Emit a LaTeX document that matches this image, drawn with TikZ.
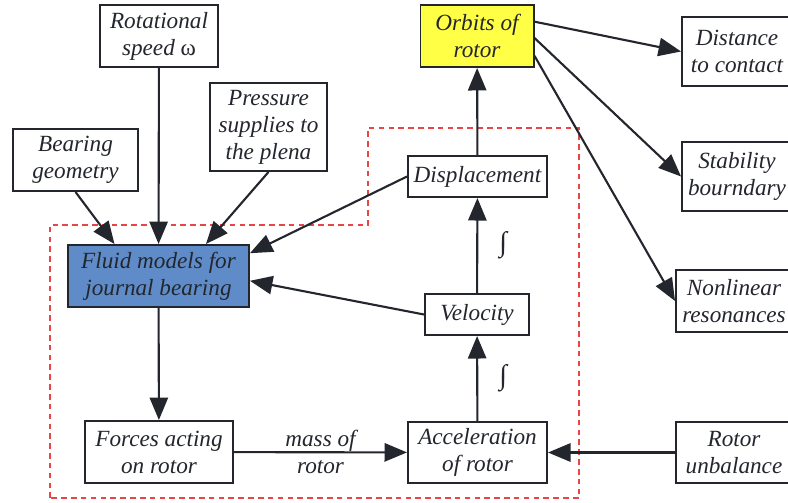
\documentclass[tikz,border=0pt]{standalone}
\usepackage{fontspec}
\setmainfont{Liberation Serif}[ItalicFont={Liberation Serif Italic}]
\usepackage{tikz}
\usetikzlibrary{arrows.meta}
\definecolor{fluidblue}{RGB}{95,140,200}
\definecolor{orbityellow}{RGB}{255,255,70}
\definecolor{loopred}{RGB}{232,70,70}
\definecolor{ink}{RGB}{35,38,45}

\begin{document}
\begin{tikzpicture}[scale=0.25]
\tikzstyle{every node}+=[inner sep=2pt, text=ink, align=center,
  font=\fontsize{16.5}{19.2}\selectfont\itshape]
\tikzstyle{box}=[draw=ink, line width=1.4pt, fill=white]
\tikzstyle{arr}=[draw=ink, line width=1.5pt, -{Triangle[length=16pt,width=13pt]}]
\tikzstyle{integ}=[right=13pt, font=\fontsize{20}{20}\selectfont\upshape]
\useasboundingbox (0,0) rectangle (78.8,-50.2);
% loop of the rotor dynamics
\draw [loopred, line width=1.2pt, dash pattern=on 4pt off 3pt]
  (5,-49.8) -- (5,-22.5) -- (36.8,-22.5) -- (36.8,-12.8)
  -- (57.9,-12.8) -- (57.9,-49.8) -- cycle;
\node [box, minimum width=83.9pt, minimum height=44.1pt] (rot) at (15.9,-3.6) {Rotational\\speed {\upshape ω}};
\node [box, minimum width=88.9pt, minimum height=44.1pt] (geom) at (7.55,-16) {Bearing\\geometry};
\node [box, minimum width=83.2pt, minimum height=62.6pt] (press) at (26.85,-12.7) {Pressure\\supplies to\\the plena};
\node [box, fill=fluidblue, minimum width=128.7pt, minimum height=44.1pt] (fluid) at (15.85,-27.6) {Fluid models for\\journal bearing};
\node [box, minimum width=105.3pt, minimum height=44.1pt] (forces) at (15.9,-45.2) {Forces acting\\on rotor};
\node [box, minimum width=98.9pt, minimum height=43.4pt] (acc) at (47.75,-45.25) {Acceleration\\of rotor};
\node [box, minimum width=74pt, minimum height=29.2pt] (vel) at (47.7,-31.45) {Velocity};
\node [box, minimum width=98.9pt, minimum height=29.2pt] (disp) at (47.75,-17.65) {Displacement};
\node [box, fill=orbityellow, minimum width=80.4pt, minimum height=44.1pt] (orbit) at (47.7,-3.6) {Orbits of\\rotor};
\node [box, minimum width=78.2pt, minimum height=49.1pt] (dist) at (73.7,-5.15) {Distance\\to contact};
\node [box, minimum width=78.2pt, minimum height=49.1pt] (stab) at (73.7,-17.65) {Stability\\bourndary};
\node [box, minimum width=82.5pt, minimum height=44.1pt] (nonlin) at (73.4,-30.1) {Nonlinear\\resonances};
\node [box, minimum width=82.5pt, minimum height=43.4pt] (unbal) at (73.4,-45.25) {Rotor\\unbalance};
% inputs of the fluid models
\draw [arr] (rot) -- (fluid);
\draw [arr] (geom.south) -- (fluid.144);
\draw [arr] (press.south) -- (fluid.34);
\draw [arr] (disp.west) -- (fluid.14);
\draw [arr] (vel.west) -- (fluid.-3);
% forces to motion
\draw [arr] (fluid) -- (forces);
\draw [arr] (forces) -- node {mass of\\rotor} (acc);
\draw [arr] (unbal) -- (acc);
\draw [arr] (acc) -- node [integ] {∫} (vel);
\draw [arr] (vel) -- node [integ] {∫} (disp);
\draw [arr] (disp) -- (orbit);
% results
\draw [arr] (orbit.14) -- (dist.west);
\draw [arr] (orbit.-2) -- (stab.west);
\draw [arr] (orbit.-19) -- (nonlin.west);
\end{tikzpicture}
\end{document}
